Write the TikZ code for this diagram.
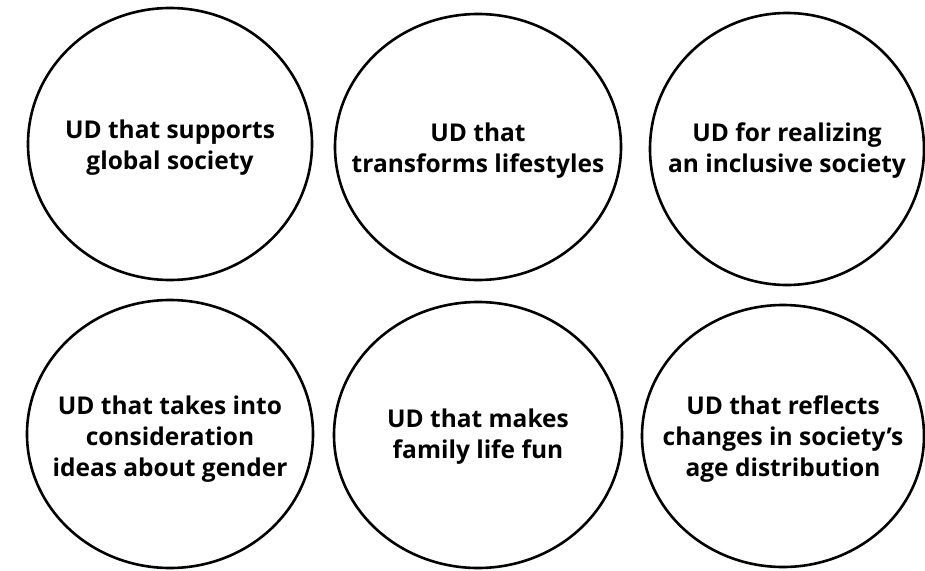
\documentclass[tikz,border=0pt]{standalone}
\usepackage{fontspec}
\setmainfont{Open Sans}

\tikzstyle{txt} = [align=center, inner sep=0pt, font=\bfseries\fontsize{24.5}{31}\selectfont]
\tikzstyle{blob} = [draw, line width=2.6pt]

\begin{document}
\begin{tikzpicture}[x=1pt,y=-1pt]
\useasboundingbox (0,0) rectangle (925,570);
%top row
\node[txt] (global) at (170,148) {UD that supports\\global society};
\node[txt] (life) at (478,151) {UD that\\transforms lifestyles};
\node[txt] (incl) at (787,151) {UD for realizing\\an inclusive society};
%bottom row
\node[txt] (gender) at (170,439) {UD that takes into\\consideration\\ideas about gender};
\node[txt] (family) at (478,437) {UD that makes\\family life fun};
\node[txt] (age) at (783,439) {UD that reflects\\changes in society's\\age distribution};

%outlines
\draw[blob] (170,144) ellipse [x radius=142, y radius=136];% global
\draw[blob] (478,147) ellipse [x radius=143, y radius=133];% life
\draw[blob] (787,149) ellipse [x radius=137, y radius=136];% incl
\draw[blob] (170,434) ellipse [x radius=143, y radius=134];% gender
\draw[blob] (478,435) ellipse [x radius=144, y radius=133];% family
\draw[blob] (783,436) ellipse [x radius=141, y radius=131];% age
\end{tikzpicture}
\end{document}
